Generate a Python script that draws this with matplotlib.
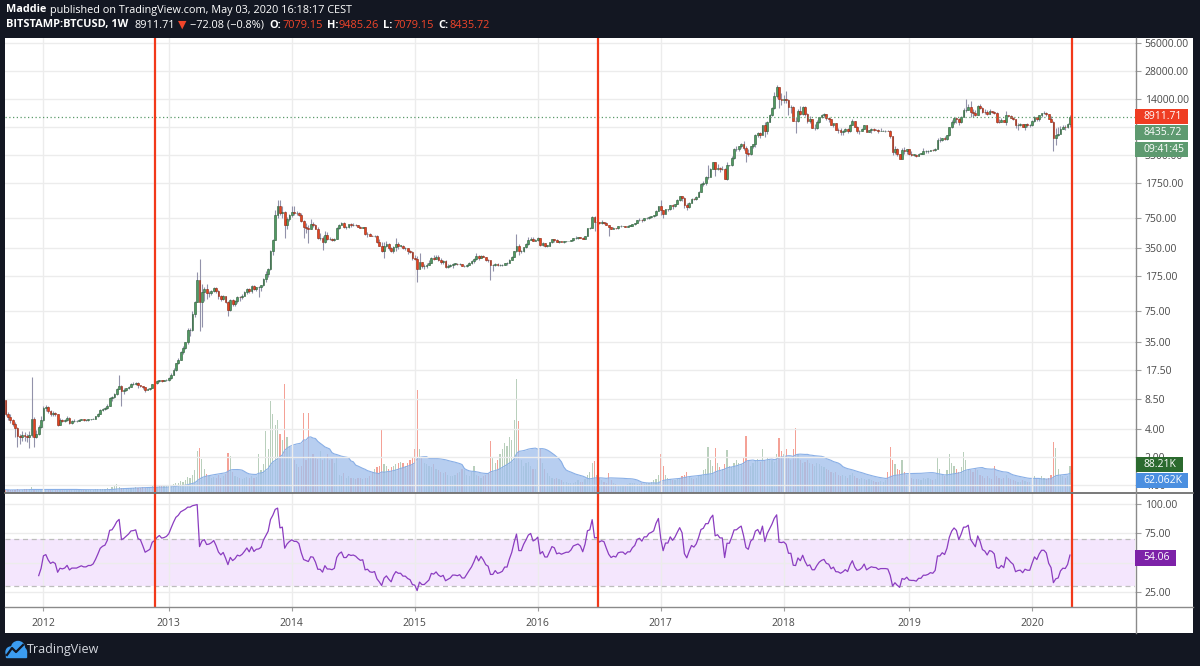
import numpy as np
import pandas as pd
import matplotlib
matplotlib.use('Agg')
import matplotlib.pyplot as plt
from matplotlib.patches import Rectangle, Circle
from matplotlib.lines import Line2D
from matplotlib.ticker import FixedLocator, FixedFormatter, NullLocator
from matplotlib.transforms import IdentityTransform

plt.rcParams['font.family'] = ['Open Sans', 'DejaVu Sans']

# BTCUSD hebdo (Bitstamp), valeurs estimées sur le graphique
start = '2011-09-12'
first_open = 8.2

close = [
    5.9, 5.4, 5.0, 4.6, 4.1, 3.4, 3.3, 3.5, 3.4, 3.3, 3.5, 5.2, 3.3, 3.6, 4.2, 5.0,  # 2011
    6.8, 7.0, 6.3, 5.8, 6.0, 5.8, 4.5, 5.0, 4.9, 5.0, 5.3, 4.7, 4.9, 4.9, 4.9, 5.0, 5.1, 5.0,
    5.0, 5.1, 5.1, 5.2, 5.5, 5.9, 6.4, 6.6, 6.7, 7.2, 8.7, 8.8, 9.6, 10.9, 11.8, 10.2, 10.5,
    11.0, 11.5, 12.3, 12.4, 12.6, 11.9, 11.8, 11.3, 10.7, 10.9, 11.1, 12.2, 12.5,
    13.1, 13.5, 13.3, 13.4, 13.6,  # 2012
    14.1, 15.5, 17.5, 20.4, 22.2, 27.0, 29.9, 34.3, 46.9, 47.0, 69.6, 92.2,
    162, 92, 119, 127, 115, 117, 123, 133, 122, 107, 100, 108, 94,
    76, 98, 89, 95, 106, 104, 109, 118, 129, 121, 138, 128, 135, 136,
    141, 166, 186, 210, 332, 435, 803, 1010, 840, 870, 620, 730, 800,  # 2013
    850, 830, 830, 805, 690, 590, 575, 560, 635, 630, 565, 455, 455,
    410, 490, 440, 440, 430, 445, 575, 630, 655, 595, 595, 635, 625,
    630, 620, 600, 585, 590, 500, 505, 480, 475, 480, 410, 375, 330,
    375, 390, 355, 325, 365, 390, 375, 375, 350, 350, 330, 320, 275,  # 2014
    270, 210, 250, 225, 225, 235, 245, 275, 270, 280, 260, 250, 255,
    220, 225, 230, 240, 240, 237, 240, 225, 225, 235, 245, 255, 270,
    290, 275, 290, 280, 265, 260, 230, 230, 240, 230, 232, 235, 245,
    245, 265, 285, 325, 375, 325, 325, 360, 390, 430, 445, 420, 430,  # 2015
    450, 385, 400, 375, 375, 405, 440, 435, 410, 415, 410, 415, 420,
    420, 430, 450, 455, 460, 455, 440, 475, 575, 585, 760, 670, 675,
    650, 665, 660, 625, 590, 570, 580, 575, 605, 610, 610, 600, 615,
    615, 640, 655, 700, 710, 700, 735, 735, 765, 775, 790, 890, 1000,  # 2016
    900, 820, 920, 920, 1020, 995, 1050, 1150, 1270, 1230, 1020, 965, 1080,
    1200, 1180, 1250, 1420, 1720, 1780, 2050, 2050, 2520, 2950, 2500, 2580, 2500,
    2500, 1930, 2750, 2750, 3250, 4050, 4070, 4350, 4590, 4230, 3690, 3600, 4350,
    4600, 5700, 6000, 5750, 7400, 6300, 8000, 9400, 11300, 15200, 19100, 13900, 13800,  # 2017
    14100, 13600, 11500, 11500, 8200, 8100, 10400, 9600, 11400, 9600, 8200, 8500, 6900,
    6900, 8000, 8900, 9400, 9650, 8700, 8500, 7350, 7700, 6550, 6500, 6150, 6390,
    6750, 6350, 7400, 8200, 7000, 6300, 6400, 6700, 7300, 6250, 6500, 6700, 6600,
    6580, 6300, 6400, 6400, 6400, 6350, 5600, 3800, 4100, 3600, 3200, 4000, 3850, 4050,  # 2018
    3600, 3550, 3550, 3450, 3650, 3650, 3850, 3850, 3900, 4000, 3950, 4100,
    5050, 5050, 5300, 5200, 5700, 6950, 8000, 8700, 8550, 7950, 8950, 10750, 10800,
    11400, 10200, 9850, 9500, 11900, 11300, 10300, 10100, 9600, 10400, 10300, 10000, 8050, 7900,
    8300, 7950, 9550, 9200, 8800, 8500, 7300, 7450, 7500, 7100, 7500, 7350, 7350,  # 2019
    8100, 8900, 8600, 9350, 9900, 9900, 9650, 8550, 8000, 5350, 5800, 5900, 6750,
    7100, 7050, 7550, 8911.71,  # 2020
]

high = [
    8.3, 6.2, 5.8, 5.2, 4.8, 4.2, 3.6, 3.8, 3.7, 3.6, 3.8, 14.5, 5.4, 3.9, 4.5, 5.5,
    7.2, 7.3, 7.1, 6.5, 6.3, 6.2, 5.9, 5.3, 5.2, 5.2, 5.5, 5.4, 5.0, 5.1, 5.0, 5.2, 5.2, 5.2,
    5.1, 5.2, 5.2, 5.3, 5.6, 6.0, 6.6, 6.8, 6.9, 7.5, 9.0, 9.2, 9.8, 11.2, 15.4, 12.0, 11.0,
    11.2, 11.8, 12.6, 12.8, 13.0, 12.8, 12.0, 11.8, 11.4, 11.0, 11.2, 12.3, 12.6,
    13.4, 13.7, 13.7, 13.6, 13.8,
    14.5, 15.9, 18.0, 20.7, 23.5, 27.5, 31.0, 35.0, 48.4, 49.0, 74.9, 95.7,
    194, 266, 145, 135, 144, 123, 124, 135, 134, 125, 110, 111, 108,
    95, 100, 99, 98, 107, 107, 112, 121, 133, 133, 140, 140, 136, 139,
    142, 168, 199, 213, 334, 443, 900, 1163, 1163, 1000, 875, 760, 820,
    1000, 1000, 880, 870, 830, 710, 660, 620, 720, 680, 640, 590, 510,
    480, 540, 520, 460, 450, 450, 590, 635, 680, 665, 610, 640, 655,
    650, 635, 630, 605, 600, 590, 525, 515, 490, 485, 485, 445, 410,
    410, 415, 400, 365, 370, 450, 410, 385, 380, 365, 355, 340, 325,
    300, 290, 310, 250, 240, 245, 265, 285, 300, 300, 295, 275, 265,
    260, 240, 240, 245, 245, 245, 245, 240, 232, 240, 250, 260, 275,
    315, 300, 300, 300, 285, 270, 260, 240, 245, 245, 240, 240, 245,
    250, 270, 290, 330, 500, 390, 340, 360, 395, 465, 460, 465, 440,
    460, 455, 410, 400, 380, 405, 445, 445, 440, 425, 420, 418, 425,
    425, 430, 455, 470, 465, 465, 460, 480, 580, 590, 780, 770, 700,
    680, 700, 680, 665, 630, 600, 590, 585, 610, 625, 615, 615, 625,
    620, 645, 660, 710, 735, 720, 740, 755, 770, 780, 795, 900, 1000,
    1150, 910, 930, 930, 1025, 1060, 1060, 1195, 1290, 1290, 1250, 1075, 1090,
    1210, 1225, 1265, 1450, 1780, 1850, 2100, 2760, 2540, 2980, 2980, 2800, 2600,
    2700, 2570, 2950, 2780, 3450, 4150, 4380, 4400, 4720, 4980, 4400, 4100, 4400,
    4640, 5850, 6190, 6150, 7470, 7870, 8070, 9700, 11500, 16500, 19700, 19000, 16200,
    15500, 17200, 14000, 12100, 11800, 9000, 10900, 11800, 11700, 11700, 10000, 9200, 8500,
    7500, 8400, 9000, 9750, 9950, 9700, 8900, 8550, 7750, 7700, 6900, 6850, 6600,
    6850, 6800, 7650, 8500, 8250, 7150, 6600, 6800, 7350, 7400, 6550, 6800, 6800,
    6750, 6650, 6850, 6550, 6500, 6550, 6450, 5650, 4350, 4200, 3650, 4200, 4250, 4100,
    4100, 3850, 3650, 3600, 3700, 3700, 4200, 3950, 3950, 4000, 4100, 4150,
    5350, 5450, 5350, 5650, 5800, 7000, 8350, 8950, 9000, 8800, 9300, 11250, 13880,
    12300, 13200, 11100, 10650, 12100, 12350, 11500, 10950, 10800, 10900, 10450, 10350, 10100, 8500,
    8800, 8400, 10400, 9500, 9450, 9100, 8250, 7850, 7750, 7600, 7650, 7700, 7500,
    8450, 9200, 8950, 9550, 9800, 10500, 10250, 9700, 9200, 8200, 6900, 6950, 7200,
    7450, 7300, 7750, 9485.26,
]

low = [
    5.6, 5.0, 4.7, 4.3, 3.3, 2.6, 2.8, 3.0, 3.0, 2.9, 2.5, 3.3, 2.6, 3.2, 3.5, 4.1,
    4.9, 6.3, 6.0, 5.6, 5.5, 5.6, 4.3, 4.4, 4.8, 4.8, 4.9, 4.6, 4.6, 4.8, 4.8, 4.9, 5.0, 4.9,
    4.9, 4.9, 5.0, 5.1, 5.1, 5.4, 5.8, 6.3, 6.4, 6.6, 7.2, 8.0, 8.6, 9.4, 10.8, 7.1, 9.6,
    10.3, 10.9, 11.4, 12.0, 12.1, 11.0, 11.5, 10.9, 10.0, 10.5, 10.7, 11.0, 12.0,
    12.4, 13.0, 13.0, 13.1, 13.3,
    13.3, 13.8, 15.2, 17.0, 20.0, 22.0, 26.0, 29.0, 33.0, 40.0, 46.0, 65.0,
    92, 45, 50, 95, 100, 105, 110, 118, 115, 100, 95, 97, 90,
    66, 75, 84, 85, 91, 96, 99, 107, 113, 117, 117, 124, 121, 105,
    122, 137, 152, 172, 205, 300, 430, 740, 800, 750, 456, 570, 690,
    760, 800, 790, 770, 680, 450, 510, 400, 560, 600, 560, 440, 435,
    340, 400, 430, 430, 420, 425, 440, 560, 620, 580, 565, 585, 590,
    615, 615, 595, 580, 575, 490, 460, 470, 470, 465, 400, 370, 320,
    275, 360, 340, 320, 315, 330, 345, 365, 345, 335, 305, 310, 265,
    260, 152, 210, 215, 212, 215, 230, 245, 260, 268, 255, 240, 240,
    215, 215, 220, 218, 230, 233, 233, 225, 220, 222, 230, 240, 245,
    260, 265, 275, 280, 255, 250, 162, 200, 225, 225, 225, 225, 232,
    235, 243, 260, 280, 320, 300, 310, 320, 355, 380, 430, 415, 418,
    420, 370, 375, 360, 365, 370, 395, 410, 410, 400, 408, 400, 410,
    415, 415, 420, 445, 445, 450, 438, 438, 470, 570, 585, 540, 615,
    635, 640, 645, 620, 480, 560, 568, 570, 570, 600, 605, 595, 598,
    607, 610, 630, 650, 690, 680, 690, 720, 730, 750, 768, 780, 895,
    790, 750, 820, 880, 900, 920, 980, 1040, 1140, 1130, 960, 900, 940,
    1070, 1170, 1150, 1240, 1400, 1650, 1690, 1930, 2020, 2460, 2100, 2450, 2300,
    2450, 1950, 1900, 2650, 2650, 3200, 3900, 3900, 4200, 4000, 2980, 3450, 3500,
    4140, 4320, 5450, 5400, 5750, 5520, 5850, 8000, 9300, 10900, 14400, 11200, 12100,
    12800, 12700, 9400, 10000, 9200, 6000, 8000, 9400, 9400, 9300, 7700, 7700, 6900,
    6600, 6700, 7800, 8700, 8900, 8350, 7900, 7300, 7100, 6500, 6100, 5800, 5800,
    6250, 6080, 6250, 7300, 7000, 6100, 5880, 6300, 6700, 6200, 6150, 6100, 6400,
    6480, 6050, 6350, 6330, 6250, 6300, 5300, 3500, 3650, 3450, 3150, 3200, 3650, 3650,
    3550, 3450, 3400, 3350, 3400, 3580, 3600, 3700, 3720, 3850, 3900, 3900,
    4100, 4900, 4950, 5150, 5100, 5600, 6900, 7600, 7800, 7450, 7700, 8900, 10300,
    10800, 9100, 9100, 9200, 9400, 11000, 9900, 9600, 9400, 9600, 9850, 9650, 7800, 7700,
    7900, 7900, 7300, 9000, 8700, 8400, 6850, 6500, 7150, 6950, 6450, 7100, 7000,
    7250, 7950, 8250, 8250, 9050, 9600, 9300, 8500, 8450, 3850, 4450, 5650, 6450,
    6750, 6500, 6800, 7079.15,
]

# volume hebdo en milliers de BTC
volume_k = [
    8, 7, 6, 7, 8, 9, 7, 8, 9, 10, 9, 16, 9, 8, 8, 10,
    10, 9, 8, 10, 9, 12, 10, 8, 7, 7, 8, 7, 6, 7, 7, 6, 6, 6, 7, 6,
    7, 8, 9, 10, 9, 10, 12, 14, 12, 16, 20, 28, 18, 15, 13, 14, 15, 13, 14, 16,
    14, 15, 16, 15, 17, 18, 20, 19, 18, 20, 22, 20, 21,
    22, 25, 28, 30, 32, 38, 35, 40, 52, 48, 60, 75, 141, 152, 114, 80, 62, 55, 50, 52,
    48, 58, 50, 55, 62, 135, 124, 70, 55, 52, 48, 45, 50, 52, 48, 55, 50, 52, 131, 75,
    95, 210, 150, 314, 270, 230, 250, 200, 180, 373, 190, 160,
    120, 110, 95, 85, 90, 272, 110, 272, 120, 130, 120, 115, 140, 110, 120, 130, 110, 115,
    100, 120, 60, 55, 65, 50, 55, 48, 50, 45, 50, 48, 45, 50, 48, 55, 70, 80, 85, 90,
    217, 95, 90, 80, 85, 90, 95, 100, 105, 100, 90, 100, 110, 120,
    150, 352, 150, 120, 100, 95, 90, 85, 95, 80, 75, 70, 65, 70, 60, 55, 55, 60, 65, 70,
    80, 75, 60, 55, 70, 90, 60, 55, 50, 55, 60, 65, 176, 120, 100, 110, 130, 150, 170, 160,
    190, 180, 250, 390, 245, 110, 90, 100, 105, 90, 80, 80,
    110, 150, 100, 80, 65, 55, 50, 45, 50, 45, 40, 35, 35, 30, 30, 30, 35, 40, 35, 35,
    45, 60, 70, 100, 107, 60, 50, 40, 35, 30, 66, 40, 30, 28, 25, 25, 24, 25, 26, 30,
    32, 30, 28, 27, 30, 28, 30, 32, 35, 40, 45, 60,
    131, 90, 60, 50, 45, 40, 40, 45, 50, 55, 60, 70, 55, 50, 45, 50, 55, 60, 75, 80,
    155, 110, 90, 152, 100, 85, 80, 95, 145, 90, 85, 100, 110, 100, 95, 120, 193, 110, 90, 100,
    110, 115, 105, 148, 110, 120, 115, 110, 105, 130, 186, 140,
    130, 148, 120, 110, 150, 220, 130, 110, 100, 105, 110, 100, 95, 90, 100, 95, 90, 85, 80, 75,
    70, 65, 70, 60, 55, 60, 55, 50, 60, 65, 55, 50, 45, 50, 45, 40, 45, 40, 38, 35,
    35, 38, 36, 40, 70, 155, 110, 95, 80, 75, 110, 70, 60,
    55, 50, 45, 45, 45, 40, 50, 45, 50, 45, 40, 45, 117, 80, 60, 55, 75, 131, 100, 90,
    80, 70, 85, 138, 110, 80, 75, 70, 80, 75, 60, 55, 50, 55, 50, 45, 90, 55, 50, 45,
    50, 60, 50, 45, 40, 38, 35, 35, 40, 38, 35, 35,
    45, 55, 50, 45, 55, 50, 45, 50, 60, 172, 152, 80, 60, 55, 50, 55, 88.21,
]

halvings = ['2012-11-28', '2016-07-01', '2020-05-04']
price_ticks = [56000, 28000, 14000, 7000, 3500, 1750, 750, 350, 175, 75, 35, 17.5, 8.5, 4, 2, 1]
hidden_price_labels = [7000]      # cachés par les étiquettes de prix
rsi_ticks = [25, 50, 75, 100]
hidden_rsi_labels = [50]
years = list(range(2012, 2021))

n = len(close)
assert len(high) == n and len(low) == n and len(volume_k) == n, (n, len(high), len(low), len(volume_k))

c = np.array(close, float)
o = np.concatenate([[first_open], c[:-1]])
hi = np.maximum(np.array(high, float), np.maximum(o, c))
lo = np.minimum(np.array(low, float), np.minimum(o, c))
vol = np.array(volume_k, float)
idx = np.arange(n)
up = c >= o

dates = pd.date_range(start, periods=n, freq='7D')
year_pos = [int(np.argmax(dates.year == y)) for y in years]
halv_pos = [(pd.Timestamp(d) - dates[0]).days / 7 for d in halvings]

# RSI 14 (lissage de Wilder)
diff = np.diff(c)
gain = np.where(diff > 0, diff, 0.0)
loss = np.where(diff < 0, -diff, 0.0)
rsi = np.full(n, np.nan)
ag, al = gain[:14].mean(), loss[:14].mean()
rsi[14] = 100 if al == 0 else 100 - 100 / (1 + ag / al)
for i in range(15, n):
    ag = (ag * 13 + gain[i - 1]) / 14
    al = (al * 13 + loss[i - 1]) / 14
    rsi[i] = 100 if al == 0 else 100 - 100 / (1 + ag / al)

vol_ma = pd.Series(vol).rolling(20, min_periods=1).mean().values

# ---- figure ----
W, H = 1200, 666
fig = plt.figure(figsize=(12, 6.66), dpi=100, facecolor='#131722')


def box(x0, y0, x1, y1):
    return [x0 / W, 1 - y1 / H, (x1 - x0) / W, (y1 - y0) / H]


fig.patches.append(Rectangle((5 / W, 1 - 633 / H), 1188 / W, 595 / H, transform=fig.transFigure,
                             facecolor='white', edgecolor='none', zorder=0))

ax_vol = fig.add_axes(box(5, 38, 1135, 492))
ax = fig.add_axes(box(5, 38, 1135, 492), sharex=ax_vol)
ax_rsi = fig.add_axes(box(5, 493, 1135, 607), sharex=ax_vol)
ax_vol.set_zorder(1)
ax.set_zorder(2)
ax_rsi.set_zorder(2)
for a in (ax_vol, ax, ax_rsi):
    a.patch.set_alpha(0)
    for s in a.spines.values():
        s.set_visible(False)

ax_vol.set_xlim(-0.25, 477.5)
ax_vol.set_xticks(year_pos)
ax_vol.tick_params(left=False, right=False, bottom=False, labelleft=False, labelbottom=False)
ax_vol.set_ylim(0, 1566)

# volume
vcol = np.where(up, '#b9cfbc', '#f4a196')
ax_vol.bar(idx, vol, width=0.5, color=vcol, zorder=2)
ax_vol.fill_between(idx, vol_ma, 0, color='#a3c1ed', alpha=0.78, lw=0, zorder=3)
ax_vol.plot(idx, vol_ma, color='#89afe6', lw=0.8, zorder=4)

# prix
ax.set_yscale('log')
ax.set_ylim(0.85, 63400)
ax.yaxis.set_major_locator(FixedLocator(price_ticks))
ax.yaxis.set_major_formatter(FixedFormatter(
    ['' if t in hidden_price_labels else '%.2f' % t for t in price_ticks]))
ax.yaxis.set_minor_locator(NullLocator())
ax.yaxis.tick_right()
ax.tick_params(axis='y', length=4, width=0.8, color='#a0a0a0', labelsize=7.5,
               labelcolor='#4a4a4a', pad=3)
ax.tick_params(axis='x', bottom=False, labelbottom=False)
ax.grid(True, color='#ececec', lw=1, zorder=0)

ax.vlines(idx, lo, hi, color='#9292aa', lw=0.8, zorder=3)
body_lo = np.minimum(o, c)
body_h = np.maximum(np.abs(c - o), body_lo * 0.004)
ax.bar(idx[up], body_h[up], bottom=body_lo[up], width=0.75, color='#4f9a62',
       edgecolor='#2b5a36', lw=0.4, zorder=4)
ax.bar(idx[~up], body_h[~up], bottom=body_lo[~up], width=0.75, color='#e6431e',
       edgecolor='#8a2512', lw=0.4, zorder=4)
ax.axhline(c[-1], color='#5b9a6a', lw=0.9, ls=(0, (1, 2)), zorder=5)

# RSI
ax_rsi.set_ylim(12.2, 109.4)
ax_rsi.yaxis.set_major_locator(FixedLocator(rsi_ticks))
ax_rsi.yaxis.set_major_formatter(FixedFormatter(
    ['' if t in hidden_rsi_labels else '%.2f' % t for t in rsi_ticks]))
ax_rsi.yaxis.tick_right()
ax_rsi.tick_params(axis='y', length=4, width=0.8, color='#a0a0a0', labelsize=7.5,
                   labelcolor='#4a4a4a', pad=3)
ax_rsi.set_xticks(year_pos)
ax_rsi.set_xticklabels([str(y) for y in years])
ax_rsi.tick_params(axis='x', length=3, width=0.8, color='#a0a0a0', labelsize=7.5,
                   labelcolor='#4a4a4a', pad=5)
ax_rsi.grid(True, color='#ececec', lw=1, zorder=0)
ax_rsi.axhspan(30, 70, color='#f4e6fd', lw=0, zorder=1)
for lv in (30, 70):
    ax_rsi.axhline(lv, color='#bdbdbd', lw=0.9, ls=(0, (4, 3)), zorder=2)
ax_rsi.plot(idx, rsi, color='#8b3dc0', lw=0.9, zorder=3)

# demi-vies (halvings)
for hp in halv_pos:
    ax.axvline(hp, color='#f2391a', lw=1.6, zorder=6)
    ax_rsi.axvline(hp, color='#f2391a', lw=1.6, zorder=6)

# séparateurs
for (x0, y0, x1, y1, col, lw) in [(5, 492.5, 1193, 492.5, '#6e6e6e', 1.3),
                                  (5, 607, 1193, 607, '#8a8a8a', 1.0),
                                  (1135.5, 38, 1135.5, 633, '#8a8a8a', 1.0)]:
    fig.add_artist(Line2D([x0 / W, x1 / W], [1 - y0 / H, 1 - y1 / H], color=col, lw=lw,
                          transform=fig.transFigure, zorder=10))

# étiquettes à droite
tags = [('8911.71', 109, 124, 1135, 1188, '#ef3d22'),
        ('8435.72', 125, 140, 1135, 1188, '#5e9a70'),
        ('09:41:45', 142, 157, 1135, 1188, '#5e9a70'),
        ('88.21K', 457, 472, 1136, 1183, '#2b6a2e'),
        ('62.062K', 473, 488, 1136, 1188, '#4b8fe0'),
        ('54.06', 550, 566, 1135, 1176, '#7d22a8')]
for txt, y0, y1, x0, x1, col in tags:
    fig.add_artist(Rectangle((x0 / W, 1 - y1 / H), (x1 - x0) / W, (y1 - y0) / H,
                             transform=fig.transFigure, facecolor=col, edgecolor='none', zorder=11))
    fig.text(1143 / W, 1 - (y0 + y1) / 2 / H, txt, color='white', fontsize=7.5,
             va='center', ha='left', zorder=12)

# en-tête : morceaux posés l'un après l'autre
renderer = fig.canvas.get_renderer()
red = '#f2452a'
line1 = [('Maddie', 0, 'white', 'bold'),
         ('published on TradingView.com, May 03, 2020 16:18:17 CEST', 4, 'white', 'normal')]
line2 = [('BITSTAMP:BTCUSD, 1W', 0, 'white', 'bold'), ('8911.71', 6, 'white', 'normal'),
         ('\u25bc', 3, red, 'normal'), ('\u221272.08 (\u22120.8%)', 4, 'white', 'normal'),
         ('O:', 5, 'white', 'bold'), ('7079.15', 1, red, 'normal'),
         ('H:', 4, 'white', 'bold'), ('9485.26', 1, red, 'normal'),
         ('L:', 4, 'white', 'bold'), ('7079.15', 1, red, 'normal'),
         ('C:', 4, 'white', 'bold'), ('8435.72', 1, red, 'normal')]


def line_width(parts, size):
    tot = 0
    for s, gap, col, wt in parts:
        t = fig.text(0, 0, s, fontsize=size, fontweight=wt)
        tot += gap + t.get_window_extent(renderer).width
        t.remove()
    return tot


def put_line(parts, yc, size):
    x = 6
    for s, gap, col, wt in parts:
        x += gap
        t = fig.text(x / W, 1 - yc / H, s, color=col, fontsize=size, fontweight=wt,
                     va='center', ha='left')
        x += t.get_window_extent(renderer).width


s1 = 10 * 347 / line_width(line1, 10)
s2 = 10 * 480 / line_width(line2, 10)
put_line(line1, 10, s1)
put_line(line2, 25, s2)

# logo
pix = IdentityTransform()
for (cx, cy, r) in [(11, 652, 5), (18, 648, 6.5), (22, 652, 4.5)]:
    fig.add_artist(Circle((cx, H - cy), r, transform=pix, color='#3b9cf0', zorder=5))
fig.add_artist(Rectangle((6, H - 657), 20, 5, transform=pix, color='#3b9cf0', zorder=5))
fig.add_artist(Line2D([7, 12, 16, 23], [H - 655, H - 648, H - 652, H - 645], transform=pix,
                      color='#131722', lw=1.6, zorder=6))
fig.text(27 / W, 1 - 649 / H, 'TradingView', color='#d6d9e0', fontsize=9, va='center', ha='left')

fig.savefig('out.png', dpi=100, facecolor=fig.get_facecolor())
